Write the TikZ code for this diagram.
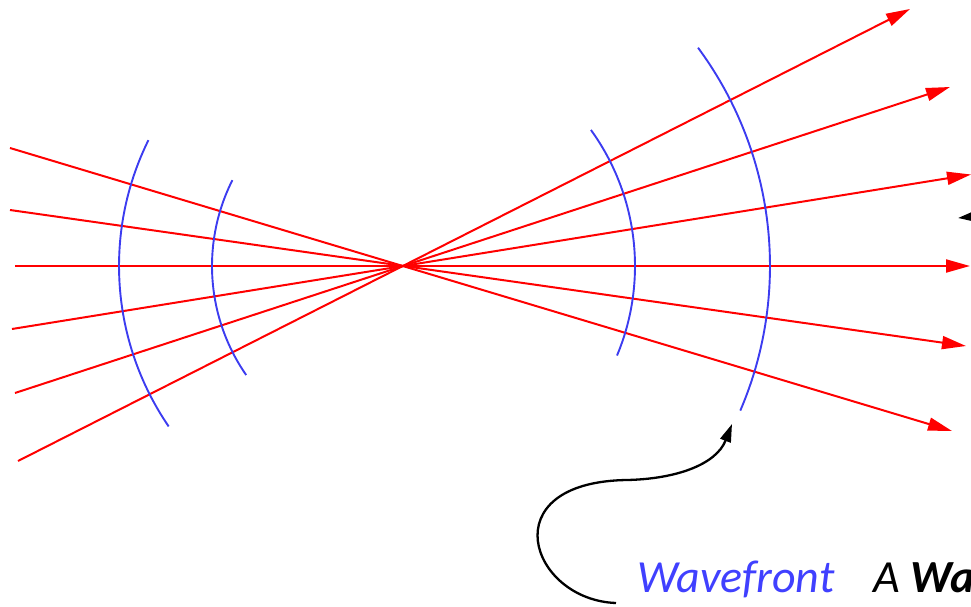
\documentclass[tikz,border=0pt]{standalone}
\usepackage{fontspec}
\setmainfont{Carlito}
\usetikzlibrary{arrows.meta}
\definecolor{wfblue}{RGB}{60,60,240}
\definecolor{txtblue}{RGB}{64,64,255}
\tikzset{
  ray/.style={draw=red, line width=2pt, -{Triangle[length=24pt,width=13pt]}},
  wave/.style={draw=wfblue, line width=1.9pt},
  pointer/.style={draw=black, line width=2.3pt, -{Triangle[length=18pt,width=11pt]}},
  lbl/.style={inner sep=0pt, anchor=base west, font=\fontsize{46}{50}\selectfont\itshape}
}
\begin{document}
\begin{tikzpicture}[x=1pt,y=1pt]
\useasboundingbox (0,0) rectangle (971,606);
\clip (0,0) rectangle (971,606);
\coordinate (F) at (403,340);
% left starts
\coordinate (L1) at (10,458);
\coordinate (L2) at (10,396);
\coordinate (L3) at (15,340);
\coordinate (L4) at (12,277);
\coordinate (L5) at (15,213);
\coordinate (L6) at (18,145);
% right ends
\coordinate (R1) at (952,175);
\coordinate (R2) at (966,260);
\coordinate (R3) at (970,340);
\coordinate (R4) at (971,431.5);
\coordinate (R5) at (950,519);
\coordinate (R6) at (910,597);
\foreach \i in {1,...,6} {\draw[ray] (L\i) -- (R\i);}
% wavefronts
\draw[wave] (F) ++(153.7:284) arc[start angle=153.7, end angle=214.4, radius=284];
\draw[wave] (F) ++(153.3:191) arc[start angle=153.3, end angle=214.8, radius=191];
\draw[wave] (F) ++(-22.7:232) arc[start angle=-22.7, end angle=35.9, radius=232];
\draw[wave] (F) ++(-23.2:367) arc[start angle=-23.2, end angle=36.5, radius=367];
% labels
\node[lbl, text=txtblue] (wf) at (637,14) {Wavefront};
\node[lbl, text=black] (aw) at (873,14) {A \textbf{Wa}};
% pointer from label to wavefront
\coordinate (P0) at (616,3);
\coordinate (P1) at (627,126);
\coordinate (P2) at (732,182);
\draw[pointer] (P0) .. controls (530,6) and (490,124) .. (P1)
  .. controls (675,127) and (716,141) .. (P2);
% clipped pointer at right edge
\coordinate (Q0) at (1010,393);
\coordinate (Q1) at (958,388);
\draw[pointer] (Q0) -- (Q1);
\end{tikzpicture}
\end{document}
